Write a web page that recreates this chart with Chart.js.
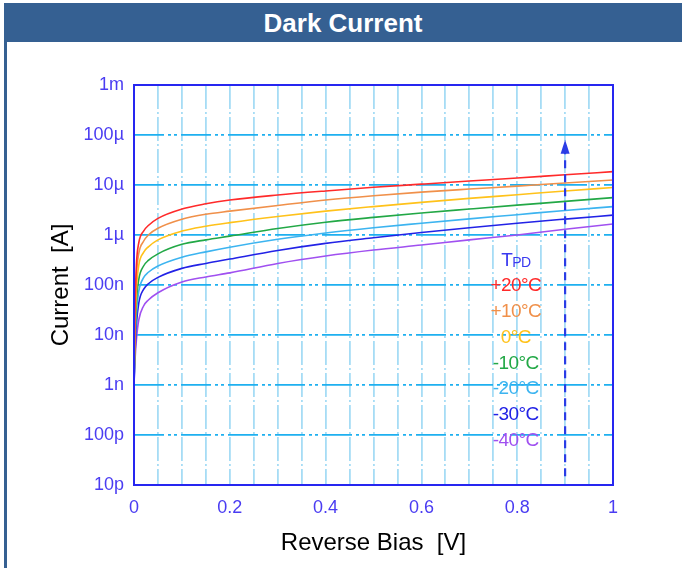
<!DOCTYPE html>
<html lang="en">

<head>
    <meta charset="UTF-8">
    <title>Dark Current</title>
    <script src="https://cdn.jsdelivr.net/npm/chart.js"></script>
    <style>
        body {
            margin: 0;
            background: #FFFFFF;
            font-family: 'Liberation Sans', Arial, sans-serif;
        }

        #bar {
            position: absolute;
            left: 4px;
            top: 3px;
            width: 678px;
            height: 39px;
            background: #356092;
            color: #FFFFFF;
            font-weight: bold;
            font-size: 26px;
            line-height: 41px;
            text-align: center;
            z-index: 2;
        }

        #edge {
            position: absolute;
            left: 4px;
            top: 3px;
            width: 3px;
            height: 565px;
            background: #356092;
            z-index: 2;
        }

        #wrap {
            position: absolute;
            left: 0;
            top: 0;
            width: 682px;
            height: 568px;
        }
    </style>
</head>

<body>
    <div id="bar">Dark Current</div>
    <div id="edge"></div>
    <div id="wrap"><canvas id="darkChart" width="682" height="568"></canvas></div>

    <script>
        // reverse bias [V]
        const bias = [0, 0.002, 0.005, 0.01, 0.02, 0.03, 0.05, 0.1, 0.15, 0.2, 0.3, 0.4, 0.5, 0.6, 0.7, 0.8, 0.9, 1.0];

        // dark current [A] per photodiode temperature
        const tempLabels = ['+20°C', '+10°C', '0°C', '-10°C', '-20°C', '-30°C', '-40°C'];
        const tempColors = ['#FF2A2A', '#F0904A', '#FFC21A', '#22A846', '#3CB4F0', '#2222E6', '#A050F0'];

        const iP20 = [1e-9, 3e-8, 2.5e-7, 7e-7, 1.2e-6, 1.55e-6, 2.15e-6, 3.3e-6, 4.2e-6, 5e-6, 6.3e-6, 7.6e-6, 9e-6, 10.4e-6, 12e-6, 13.8e-6, 16e-6, 18.5e-6];
        const iP10 = [1e-9, 2e-8, 1.5e-7, 4.3e-7, 7.5e-7, 1e-6, 1.36e-6, 2.06e-6, 2.6e-6, 3e-6, 3.9e-6, 5e-6, 6.1e-6, 7.2e-6, 8.3e-6, 9.5e-6, 11e-6, 12.6e-6];
        const i0 = [1e-9, 1.2e-8, 8e-8, 2.5e-7, 4.5e-7, 5.8e-7, 8e-7, 1.2e-6, 1.5e-6, 1.77e-6, 2.35e-6, 3e-6, 3.7e-6, 4.5e-6, 5.4e-6, 6.4e-6, 7.6e-6, 8.9e-6];
        const iM10 = [1e-9, 8e-9, 4.5e-8, 1.3e-7, 2.4e-7, 3.1e-7, 4.2e-7, 6.5e-7, 8e-7, 9.5e-7, 1.35e-6, 1.8e-6, 2.25e-6, 2.75e-6, 3.3e-6, 3.95e-6, 4.7e-6, 5.6e-6];
        const iM20 = [1e-9, 6e-9, 2.7e-8, 7.5e-8, 1.4e-7, 1.8e-7, 2.4e-7, 3.6e-7, 4.6e-7, 5.7e-7, 8.2e-7, 1.1e-6, 1.4e-6, 1.72e-6, 2.1e-6, 2.55e-6, 3.1e-6, 3.7e-6];
        const iM30 = [1e-9, 4e-9, 1.6e-8, 4.4e-8, 8.2e-8, 1.06e-7, 1.42e-7, 2.15e-7, 2.7e-7, 3.3e-7, 4.9e-7, 6.8e-7, 8.8e-7, 1.12e-6, 1.4e-6, 1.72e-6, 2.08e-6, 2.5e-6];
        const iM40 = [1e-9, 3e-9, 8e-9, 2e-8, 3.8e-8, 5e-8, 7e-8, 1.15e-7, 1.45e-7, 1.75e-7, 2.7e-7, 3.8e-7, 5e-7, 6.3e-7, 8e-7, 1e-6, 1.3e-6, 1.66e-6];
        const allSeries = [iP20, iP10, i0, iM10, iM20, iM30, iM40];

        // axis ticks
        const yTicks = [1e-11, 1e-10, 1e-9, 1e-8, 1e-7, 1e-6, 1e-5, 1e-4, 1e-3];
        const yTickLabels = ['10p', '100p', '1n', '10n', '100n', '1µ', '10µ', '100µ', '1m'];
        const xTickLabels = ['0', '0.2', '0.4', '0.6', '0.8', '1'];

        // temperature arrow
        const arrowX = 0.9;
        const arrowFrom = 1.5e-11;
        const arrowTo = 8e-5;

        const tickColor = '#4A3CF2';
        const frameColor = '#2626F0';

        const extras = {
            id: 'extras',
            afterDatasetsDraw(chart) {
                const { ctx, chartArea: a, scales } = chart;
                ctx.save();

                // plot frame
                ctx.strokeStyle = frameColor;
                ctx.lineWidth = 2;
                ctx.strokeRect(a.left, a.top, a.right - a.left, a.bottom - a.top);

                // dashed arrow
                const ax = scales.x.getPixelForValue(arrowX);
                const y0 = scales.y.getPixelForValue(arrowFrom);
                const y1 = scales.y.getPixelForValue(arrowTo);
                ctx.strokeStyle = '#2A3CE6';
                ctx.fillStyle = '#2A3CE6';
                ctx.lineWidth = 2.2;
                ctx.setLineDash([8, 6]);
                ctx.beginPath();
                ctx.moveTo(ax, y0);
                ctx.lineTo(ax, y1 + 10);
                ctx.stroke();
                ctx.setLineDash([]);
                ctx.beginPath();
                ctx.moveTo(ax, y1);
                ctx.lineTo(ax - 4.5, y1 + 14);
                ctx.lineTo(ax + 4.5, y1 + 14);
                ctx.closePath();
                ctx.fill();

                // temperature labels
                const cx = scales.x.getPixelForValue(0.797);
                ctx.textBaseline = 'middle';
                ctx.textAlign = 'left';
                ctx.letterSpacing = '-0.6px';
                ctx.font = '19px "Liberation Sans", Arial';
                const wT = ctx.measureText('T').width;
                ctx.font = '14px "Liberation Sans", Arial';
                const wPD = ctx.measureText('PD').width;
                const sx = cx - (wT + wPD) / 2;
                ctx.fillStyle = '#3A3AF0';
                ctx.font = '19px "Liberation Sans", Arial';
                ctx.fillText('T', sx, a.top + 176);
                ctx.font = '14px "Liberation Sans", Arial';
                ctx.fillText('PD', sx + wT, a.top + 178);

                ctx.font = '19px "Liberation Sans", Arial';
                ctx.textAlign = 'center';
                tempLabels.forEach((t, i) => {
                    ctx.fillStyle = tempColors[i];
                    ctx.fillText(t, cx, a.top + 201 + i * 25.8);
                });
                ctx.restore();
            }
        };

        new Chart(document.getElementById('darkChart'), {
            type: 'line',
            data: {
                datasets: allSeries.map((s, i) => ({
                    label: tempLabels[i],
                    data: bias.map((b, j) => ({ x: b, y: s[j] })),
                    borderColor: tempColors[i],
                    borderWidth: 1.6,
                    pointRadius: 0,
                    cubicInterpolationMode: 'monotone',
                    fill: false
                }))
            },
            options: {
                responsive: false,
                animation: false,
                layout: { padding: { left: 47, right: 69, top: 85, bottom: 10 } },
                plugins: {
                    legend: { display: false },
                    tooltip: { enabled: false }
                },
                scales: {
                    x: {
                        type: 'linear',
                        min: 0,
                        max: 1,
                        afterFit: (s) => { s.height = 73; },
                        ticks: {
                            stepSize: 0.05,
                            autoSkip: false,
                            maxRotation: 0,
                            padding: 12,
                            color: tickColor,
                            font: { size: 18, family: '"Liberation Sans", Arial' },
                            callback: (v) => {
                                const k = Math.round(v * 100);
                                return k % 20 === 0 ? xTickLabels[k / 20] : '';
                            }
                        },
                        grid: {
                            color: '#A6DCF5',
                            lineWidth: 1.8,
                            drawTicks: false
                        },
                        border: { display: false, dash: [24, 3, 2, 3] },
                        title: {
                            display: true,
                            text: 'Reverse Bias  [V]',
                            color: '#000000',
                            font: { size: 24, family: '"Liberation Sans", Arial' },
                            padding: 0
                        }
                    },
                    y: {
                        type: 'logarithmic',
                        min: 1e-11,
                        max: 1e-3,
                        afterFit: (s) => { s.width = 87; },
                        afterBuildTicks: (s) => { s.ticks = yTicks.map(v => ({ value: v })); },
                        ticks: {
                            padding: 10,
                            color: tickColor,
                            font: { size: 18, family: '"Liberation Sans", Arial' },
                            callback: (v, i) => yTickLabels[i]
                        },
                        grid: {
                            color: '#1EB0F0',
                            lineWidth: 1.8,
                            drawTicks: false
                        },
                        border: { display: false, dash: [30, 4, 3, 3, 3, 4] },
                        title: {
                            display: true,
                            text: 'Current  [A]',
                            color: '#000000',
                            font: { size: 24, family: '"Liberation Sans", Arial' },
                            padding: 0
                        }
                    }
                }
            },
            plugins: [extras]
        });
    </script>
</body>

</html>
